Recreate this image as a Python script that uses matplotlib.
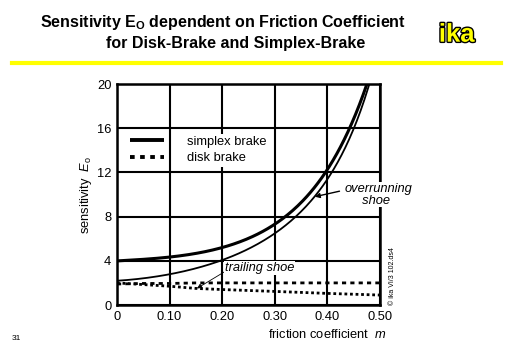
import matplotlib
matplotlib.use('Agg')
import matplotlib.pyplot as plt
import matplotlib.patheffects as pe
import numpy as np

plt.rcParams['font.family'] = ['Liberation Sans', 'DejaVu Sans']
plt.rcParams['mathtext.fontset'] = 'custom'
plt.rcParams['mathtext.rm'] = 'Liberation Sans'
plt.rcParams['mathtext.it'] = 'Liberation Sans:italic'
plt.rcParams['mathtext.bf'] = 'Liberation Sans:bold'

# friction coefficient values
mu = [0.0, 0.05, 0.10, 0.15, 0.20, 0.25, 0.30, 0.35, 0.40, 0.45, 0.475]
simplex_a = [4.0, 4.1, 4.35, 4.7, 5.2, 6.0, 7.3, 9.3, 12.3, 16.8, 20.0]
mu_b = [0.0, 0.05, 0.10, 0.15, 0.20, 0.25, 0.30, 0.35, 0.40, 0.45, 0.48]
simplex_b = [2.2, 2.4, 2.8, 3.3, 4.1, 5.1, 6.4, 8.5, 11.4, 16.0, 20.0]

mu_d = [0.0, 0.05, 0.10, 0.15, 0.20, 0.30, 0.40, 0.50]
disk_upper = [1.9, 1.95, 1.95, 2.0, 2.0, 2.0, 2.0, 2.0]
disk_lower = [2.0, 1.85, 1.7, 1.5, 1.4, 1.23, 1.05, 0.9]

xticks = [0, 0.1, 0.2, 0.3, 0.4, 0.5]
xticklabels = ['0', '0.10', '0.20', '0.30', '0.40', '0.50']
yticks = [0, 4, 8, 12, 16, 20]

fig = plt.figure(figsize=(5.12, 3.54), dpi=100)
ax = fig.add_axes([0.2285, 0.1384, 0.5137, 0.6243])

# smooth curves through the read points
def smooth(x, y):
    xs = np.linspace(x[0], x[-1], 200)
    c = np.polyfit(x, np.log(y), 4)
    return xs, np.exp(np.polyval(c, xs))

xa, ya = smooth(mu, simplex_a)
xb, yb = smooth(mu_b, simplex_b)
ax.plot(xa, ya, color='black', lw=2.2, solid_capstyle='butt', label='simplex brake', zorder=3)
ax.plot(xb, yb, color='black', lw=1.3, zorder=3)
ax.plot(mu_d, disk_upper, color='black', lw=2.0, ls=(0, (1.5, 1.5)), label='disk brake', zorder=3)
ax.plot(mu_d, disk_lower, color='black', lw=2.0, ls=(0, (1.0, 1.0)), zorder=3)

ax.set_xlim(0, 0.5)
ax.set_ylim(0, 20)
ax.set_xticks(xticks)
ax.set_xticklabels(xticklabels)
ax.set_yticks(yticks)
ax.tick_params(length=0, labelsize=9.3, pad=4)
ax.grid(True, color='black', lw=1.5)
ax.set_axisbelow(True)
for s in ax.spines.values():
    s.set_linewidth(1.8)

leg = ax.legend(loc='upper left', bbox_to_anchor=(0.01, 0.812), frameon=False,
                fontsize=9.3, handlelength=2.6, handletextpad=1.8,
                borderpad=0.3, labelspacing=0.35)
for t in leg.get_texts():
    t.set_bbox(dict(facecolor='white', edgecolor='none', pad=1.5))
for ln in leg.get_lines():
    ln.set_linewidth(2.8)
leg.get_lines()[1].set_linestyle((0, (1.2, 1.4)))

ax.annotate('', xy=(0.376, 9.8), xytext=(0.423, 10.3),
            arrowprops=dict(arrowstyle='-|>', color='black', lw=1.0, mutation_scale=7,
                            shrinkA=0, shrinkB=0))
ax.text(0.432, 10.0, 'overrunning\n     shoe', fontsize=9.3, style='italic',
        ha='left', va='center', linespacing=1.0,
        bbox=dict(facecolor='white', edgecolor='none', pad=0.5), clip_on=False)
ax.annotate('trailing shoe', xy=(0.152, 1.5), xytext=(0.205, 3.35),
            fontsize=9.3, style='italic', ha='left', va='center',
            arrowprops=dict(arrowstyle='-|>', color='black', lw=0.6, mutation_scale=7,
                            shrinkA=0, shrinkB=0, relpos=(0, 0.2)),
            bbox=dict(facecolor='white', edgecolor='none', pad=0.5))

ax.set_ylabel('sensitivity  $\\it{E}_\\mathrm{o}$', fontsize=9.3, labelpad=2)
ax.set_xlabel('friction coefficient  $\\it{m}$', fontsize=9.3)
ax.xaxis.set_label_coords(1.025, -0.105)
ax.xaxis.label.set_ha('right')

fig.text(0.436, 0.937, 'Sensitivity E$_\\mathbf{O}$ dependent on Friction Coefficient',
         ha='center', va='center', fontsize=11.5, fontweight='bold')
fig.text(0.461, 0.877, 'for Disk-Brake and Simplex-Brake',
         ha='center', va='center', fontsize=11.5, fontweight='bold')
fig.text(0.892, 0.902, 'ika', ha='center', va='center', fontsize=18.5, fontweight='bold',
         color='#FFFF00', path_effects=[pe.withStroke(linewidth=2.0, foreground='black')])
fig.add_artist(plt.Line2D([0.023, 0.978], [0.822, 0.822], color='#FFFF00', lw=3))
fig.text(0.023, 0.045, '31', fontsize=6, ha='left', va='center')
fig.text(0.767, 0.22, '\u00a9 ika VI/3 102.ds4', fontsize=5, rotation=90,
         ha='center', va='center')

fig.savefig('out.png', dpi=100)
